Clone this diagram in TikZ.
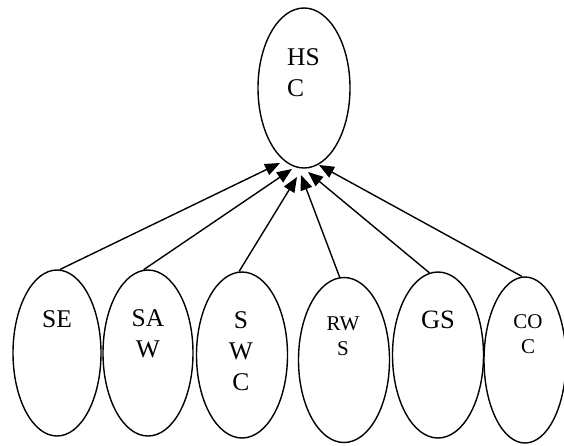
\documentclass[tikz,border=0pt]{standalone}
\usepackage{fontspec}
\setmainfont{Liberation Serif}
\usetikzlibrary{arrows.meta,shapes.geometric}
\tikzset{
  oval/.style={draw=black, line width=1.4pt, ellipse, inner sep=0pt},
  bigtxt/.style={font=\fontsize{25.5}{31}\selectfont, inner sep=0pt, anchor=base},
  smalltxt/.style={font=\fontsize{21}{25}\selectfont, inner sep=0pt, anchor=base},
  link/.style={line width=1.4pt, -{Triangle[length=15pt,width=12pt]}},
}
\begin{document}
\begin{tikzpicture}[x=1pt,y=-1pt]
\useasboundingbox (0,0) rectangle (564,445);
% top ellipse
\node[oval, minimum width=92pt, minimum height=160pt] (hsc) at (304,88) {};
\node[bigtxt, anchor=base west, align=left] (hsct) at (287,96) {HS\\C};
% bottom ellipses
\node[oval, minimum width=88pt, minimum height=166pt] (se) at (57,353) {};
\node[oval, minimum width=90pt, minimum height=166pt] (saw) at (148,353) {};
\node[oval, minimum width=91pt, minimum height=166pt] (swc) at (242,355) {};
\node[oval, minimum width=91pt, minimum height=165pt] (rws) at (344,360) {};
\node[oval, minimum width=91pt, minimum height=166pt] (gs) at (438,355) {};
\node[oval, minimum width=82pt, minimum height=166pt] (coc) at (525,360) {};
% texts
\node[bigtxt] (set) at (57,327) {SE};
\node[bigtxt, align=center] (sawt) at (148,357) {SA\\W};
\node[bigtxt, align=center] (swct) at (241,390) {S\\W\\C};
\node[smalltxt, align=center] (rwst) at (343,355) {RW\\S};
\node[bigtxt, font=\fontsize{26.5}{31}\selectfont] (gst) at (438,328) {GS};
\node[smalltxt, align=center] (coct) at (528,353) {CO\\C};
% arrow tips
\coordinate (t1) at (280,163);
\coordinate (t2) at (292,169);
\coordinate (t3) at (297,177);
\coordinate (t4) at (301,175);
\coordinate (t5) at (308,172);
\coordinate (t6) at (319,165);
\draw[link] (se.88) -- (t1);
\draw[link] (saw.93) -- (t2);
\draw[link] (swc.92) -- (t3);
\draw[link] (rws.93) -- (t4);
\draw[link] (gs.96) -- (t5);
\draw[link] (coc.92) -- (t6);
\end{tikzpicture}
\end{document}
